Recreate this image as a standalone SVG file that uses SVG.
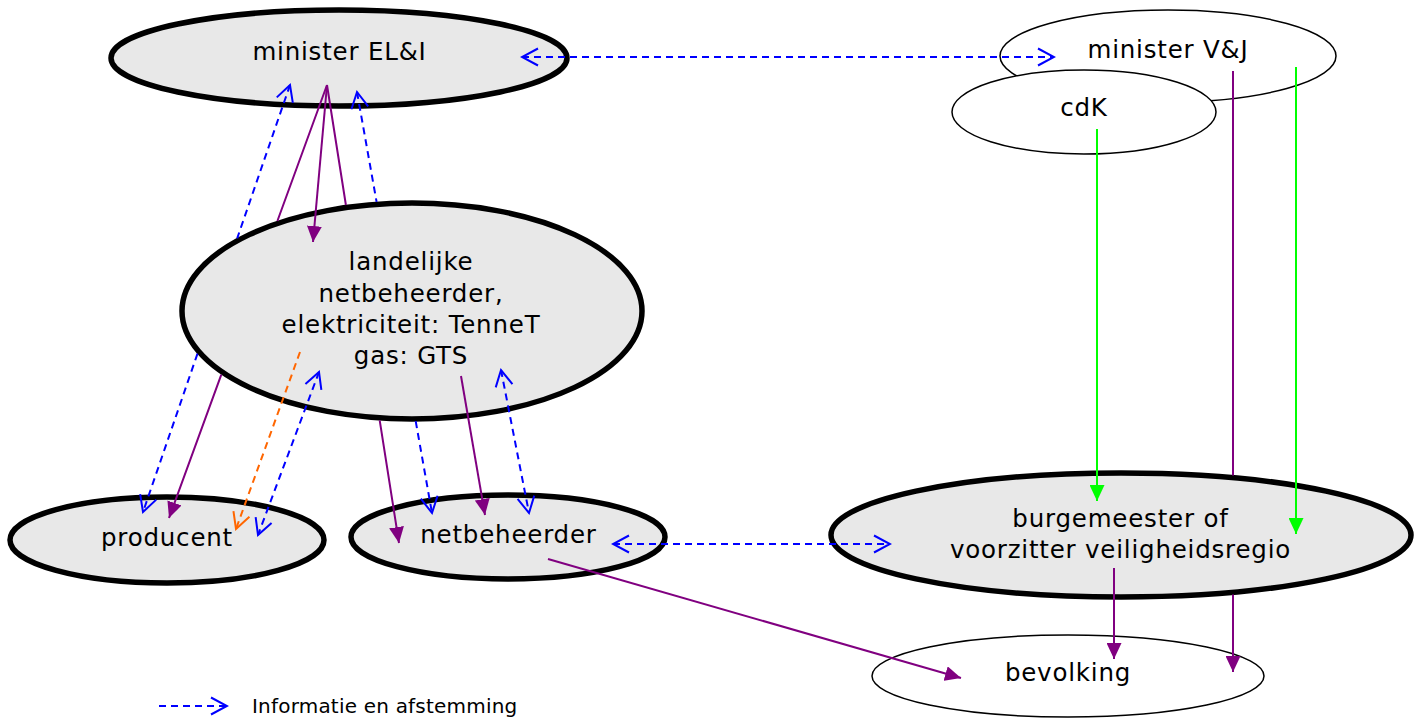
<svg xmlns="http://www.w3.org/2000/svg" width="1416" height="720" viewBox="0 0 1416 720">
<style>
.thick{fill:#e8e8e8;stroke:#000;stroke-width:5.5}
.thin{fill:#fff;stroke:#000;stroke-width:1.5}
text{font-family:"DejaVu Sans","Liberation Sans",sans-serif;font-size:24.5px;letter-spacing:0.8px;fill:#000;text-anchor:middle}
text.legend{font-size:20px;letter-spacing:0.2px;text-anchor:start}
.info{fill:none;stroke:#0000ff;stroke-width:2;stroke-dasharray:7,5;marker-end:url(#ob)}
.both{marker-start:url(#ob)}
.ctrl{fill:none;stroke:#800080;stroke-width:2;marker-end:url(#pf)}
.green{fill:none;stroke:#00ff00;stroke-width:2;marker-end:url(#gf)}
.orange{fill:none;stroke:#ff6600;stroke-width:2;stroke-dasharray:7,5;marker-end:url(#oo)}
</style>
<defs>
<marker id="ob" markerUnits="userSpaceOnUse" viewBox="0 0 20 20" markerWidth="20" markerHeight="20" refX="18" refY="10" orient="auto-start-reverse"><path d="M2,1.5 L18,10 L2,18.5" fill="none" stroke="#0000ff" stroke-width="2"/></marker>
<marker id="oo" markerUnits="userSpaceOnUse" viewBox="0 0 20 20" markerWidth="20" markerHeight="20" refX="18" refY="10" orient="auto"><path d="M2,1.5 L18,10 L2,18.5" fill="none" stroke="#ff6600" stroke-width="2"/></marker>
<marker id="pf" markerUnits="userSpaceOnUse" viewBox="0 0 16 15" markerWidth="16" markerHeight="15" refX="16" refY="7.5" orient="auto"><path d="M0,0 L16,7.5 L0,15 z" fill="#800080"/></marker>
<marker id="gf" markerUnits="userSpaceOnUse" viewBox="0 0 16 15" markerWidth="16" markerHeight="15" refX="16" refY="7.5" orient="auto"><path d="M0,0 L16,7.5 L0,15 z" fill="#00ff00"/></marker>
</defs>
<rect width="1416" height="720" fill="#fff"/>
<g id="nodes">
<g id="minister-eli"><ellipse class="thick" cx="339" cy="58" rx="228" ry="48"/><text x="339.5" y="60">minister EL&amp;I</text></g>
<g id="minister-vj"><ellipse class="thin" cx="1168" cy="56" rx="168" ry="46"/><text x="1168" y="58">minister V&amp;J</text></g>
<g id="cdk"><ellipse class="thin" cx="1084" cy="112" rx="132" ry="42"/><text x="1084" y="116">cdK</text></g>
<g id="landelijke"><ellipse class="thick" cx="412" cy="311" rx="230" ry="108"/>
<text x="411" y="270">landelijke</text>
<text x="411" y="301.5">netbeheerder,</text>
<text x="411" y="333">elektriciteit: TenneT</text>
<text x="411" y="364">gas: GTS</text></g>
<g id="producent"><ellipse class="thick" cx="167" cy="540" rx="157" ry="43"/><text x="167" y="546">producent</text></g>
<g id="netbeheerder"><ellipse class="thick" cx="508" cy="537" rx="157" ry="42"/><text x="508.5" y="543">netbeheerder</text></g>
<g id="burgemeester"><ellipse class="thick" cx="1121" cy="535" rx="290" ry="62"/>
<text x="1120.5" y="527">burgemeester of</text>
<text x="1120.5" y="558">voorzitter veiligheidsregio</text></g>
<g id="bevolking"><ellipse class="thin" cx="1068" cy="676" rx="196" ry="41"/><text x="1068" y="681">bevolking</text></g>
</g>
<g id="connectors">
<path class="info both" d="M522,57 L1054,57"/>
<path class="info both" d="M290,85 L237.2,238.3 M197.5,353.6 L143,512"/>
<path class="ctrl" d="M327,85 L277.4,221 M221.3,374.7 L169,518"/>
<path class="ctrl" d="M327,85 L345.9,205 M379.7,420.3 L399,543"/>
<path class="info both" d="M357,92 L376.6,201.9 M415.7,421.2 L432,513"/>
<path class="ctrl" d="M327,85 L313,242"/>
<path class="orange" d="M300,352 L236,529"/>
<path class="info both" d="M319,372 L258,535"/>
<path class="ctrl" d="M461,376 L485,515"/>
<path class="info both" d="M501,370 L529,513"/>
<path class="info both" d="M613,544 L890,544"/>
<path class="ctrl" d="M548,559 L961,678"/>
<path class="ctrl" d="M1114,568 L1114,659"/>
<path class="ctrl" d="M1233,71 L1233,475.5 M1233,594.5 L1233,672"/>
<path class="green" d="M1097,129 L1097,501"/>
<path class="green" d="M1296,67 L1296,534"/>
</g>
<g id="legend">
<path class="info" d="M159,706 L227,706"/>
<text class="legend" x="252" y="713">Informatie en afstemming</text>
</g>
</svg>
